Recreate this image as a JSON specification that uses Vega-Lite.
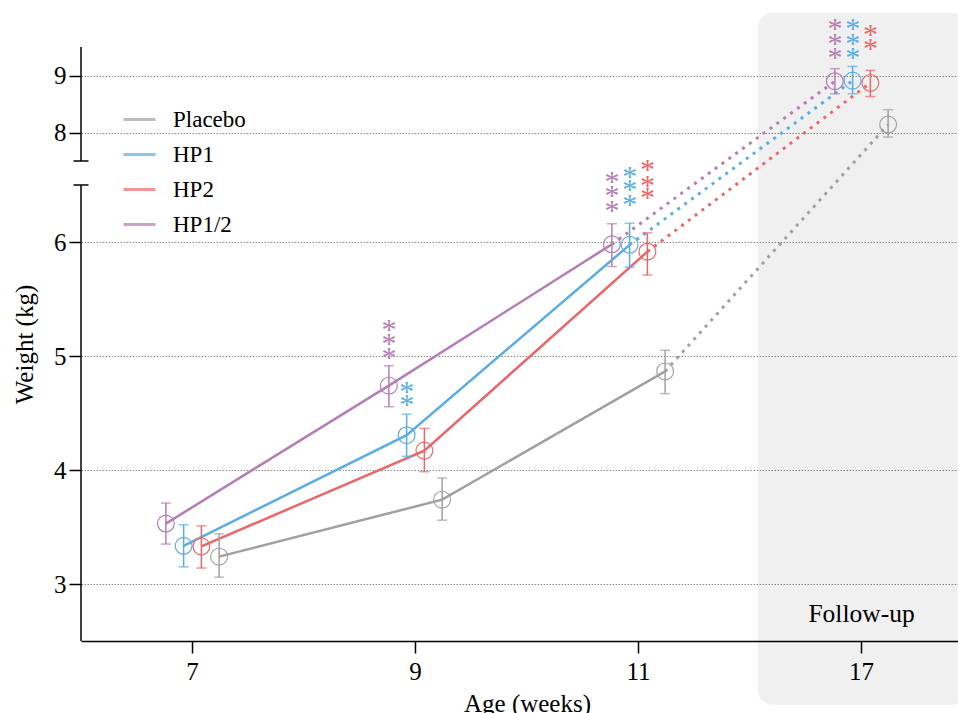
{
  "$schema": "https://vega.github.io/schema/vega-lite/v6.json",
  "autosize": {"type": "none"},
  "width": 877,
  "height": 594,
  "padding": {"left": 81, "top": 47, "right": 0, "bottom": 72},
  "background": "white",
  "config": {
    "font": "Liberation Serif",
    "view": {"stroke": null},
    "axis": {
      "labelFont": "Liberation Serif",
      "titleFont": "Liberation Serif",
      "labelFontSize": 25,
      "titleFontSize": 25,
      "titleFontWeight": "normal",
      "labelColor": "#000",
      "titleColor": "#000",
      "domainColor": "#000",
      "tickColor": "#000",
      "tickSize": 12,
      "domainWidth": 1.5,
      "tickWidth": 1.5
    },
    "legend": {
      "orient": "none",
      "legendX": 41,
      "legendY": 55,
      "padding": 0,
      "symbolType": "stroke",
      "symbolSize": 1024,
      "symbolStrokeWidth": 3,
      "labelFont": "Liberation Serif",
      "labelFontSize": 23,
      "labelColor": "#000",
      "labelOffset": 16,
      "rowPadding": 5,
      "title": null
    }
  },
  "datasets": {
    "summary": [
      {"week": 7, "group": "HP1/2", "mean": 3.53, "lo": 3.35, "hi": 3.71},
      {"week": 7, "group": "HP1", "mean": 3.335, "lo": 3.15, "hi": 3.52},
      {"week": 7, "group": "HP2", "mean": 3.33, "lo": 3.14, "hi": 3.51},
      {"week": 7, "group": "Placebo", "mean": 3.24, "lo": 3.06, "hi": 3.44},
      {"week": 9, "group": "HP1/2", "mean": 4.74, "lo": 4.555, "hi": 4.915},
      {"week": 9, "group": "HP1", "mean": 4.305, "lo": 4.12, "hi": 4.49},
      {"week": 9, "group": "HP2", "mean": 4.17, "lo": 3.985, "hi": 4.365},
      {"week": 9, "group": "Placebo", "mean": 3.74, "lo": 3.56, "hi": 3.93},
      {"week": 11, "group": "HP1/2", "mean": 5.98, "lo": 5.785, "hi": 6.16},
      {"week": 11, "group": "HP1", "mean": 5.975, "lo": 5.78, "hi": 6.165},
      {"week": 11, "group": "HP2", "mean": 5.915, "lo": 5.71, "hi": 6.08},
      {"week": 11, "group": "Placebo", "mean": 4.865, "lo": 4.67, "hi": 5.05},
      {"week": 17, "group": "HP1/2", "mean": 8.9, "lo": 8.68, "hi": 9.12},
      {"week": 17, "group": "HP1", "mean": 8.91, "lo": 8.68, "hi": 9.16},
      {"week": 17, "group": "HP2", "mean": 8.87, "lo": 8.63, "hi": 9.09},
      {"week": 17, "group": "Placebo", "mean": 8.14, "lo": 7.92, "hi": 8.4}
    ],
    "stars": [
      {"week": 9, "group": "HP1/2", "level": 5.27},
      {"week": 9, "group": "HP1/2", "level": 5.149},
      {"week": 9, "group": "HP1/2", "level": 5.026},
      {"week": 9, "group": "HP1", "level": 4.728},
      {"week": 9, "group": "HP1", "level": 4.614},
      {"week": 11, "group": "HP1/2", "level": 6.846},
      {"week": 11, "group": "HP1/2", "level": 6.445},
      {"week": 11, "group": "HP1/2", "level": 6.318},
      {"week": 11, "group": "HP1", "level": 7.054},
      {"week": 11, "group": "HP1", "level": 6.506},
      {"week": 11, "group": "HP1", "level": 6.371},
      {"week": 11, "group": "HP2", "level": 7.333},
      {"week": 11, "group": "HP2", "level": 6.679},
      {"week": 11, "group": "HP2", "level": 6.43},
      {"week": 17, "group": "HP1/2", "level": 9.912},
      {"week": 17, "group": "HP1/2", "level": 9.649},
      {"week": 17, "group": "HP1/2", "level": 9.398},
      {"week": 17, "group": "HP1", "level": 9.912},
      {"week": 17, "group": "HP1", "level": 9.649},
      {"week": 17, "group": "HP1", "level": 9.398},
      {"week": 17, "group": "HP2", "level": 9.795},
      {"week": 17, "group": "HP2", "level": 9.561}
    ],
    "breaks": [{"lo": 2.5, "hi": 6.5}, {"lo": 7.5, "hi": 9.5}],
    "caps": [{"at": 6.5}, {"at": 7.5}],
    "followup": [{"week": 17, "bottom": 1.94, "top": 10.1, "label": "Follow-up", "labelAt": 2.741}]
  },
  "layer": [
    {
      "data": {"name": "followup"},
      "mark": {"type": "bar", "fill": "#000", "fillOpacity": 0.059, "cornerRadius": 15, "width": {"band": 0.93}},
      "encoding": {
        "x": {
          "field": "week", "type": "ordinal",
          "scale": {"domain": [7, 9, 11, 17], "range": [0, 892], "paddingInner": 0, "paddingOuter": 0},
          "axis": {"title": "Age (weeks)", "labelAngle": 0, "grid": false, "labelPadding": 6, "titlePadding": 7}
        },
        "y": {
          "field": "bottom", "type": "quantitative",
          "scale": {"domain": [2.5, 6.5, 7.5, 9.5], "range": [594, 138, 114, 0], "zero": false, "nice": false},
          "axis": {"title": "Weight (kg)", "values": [3, 4, 5, 6, 8, 9], "format": "d", "domain": false, "grid": true, "gridColor": "#8c8c8c", "gridDash": [1.5, 1.5], "gridWidth": 1, "labelPadding": 3, "titlePadding": 16}
        },
        "y2": {"field": "top"}
      }
    },
    {
      "data": {"name": "followup"},
      "mark": {"type": "text", "fontSize": 25.5, "baseline": "middle", "font": "Liberation Serif", "color": "#000"},
      "encoding": {
        "x": {"field": "week", "type": "ordinal", "title": "Age (weeks)"},
        "y": {"field": "labelAt", "type": "quantitative", "title": "Weight (kg)"},
        "text": {"field": "label"}
      }
    },
    {
      "data": {"name": "breaks"},
      "mark": {"type": "rule", "color": "#000", "strokeWidth": 1.5},
      "encoding": {
        "x": {"datum": 7, "type": "ordinal", "bandPosition": 0},
        "y": {"field": "lo", "type": "quantitative", "title": "Weight (kg)"},
        "y2": {"field": "hi"}
      }
    },
    {
      "data": {"name": "caps"},
      "mark": {"type": "point", "shape": "stroke", "size": 225, "strokeWidth": 1.5, "color": "#000", "opacity": 1},
      "encoding": {
        "x": {"datum": 7, "type": "ordinal", "bandPosition": 0},
        "y": {"field": "at", "type": "quantitative", "title": "Weight (kg)"}
      }
    },
    {
      "data": {"name": "summary"},
      "transform": [{"filter": "datum.week <= 11"}],
      "mark": {"type": "line", "strokeWidth": 2.5},
      "encoding": {
        "x": {"field": "week", "type": "ordinal", "title": "Age (weeks)"},
        "xOffset": {"field": "group", "scale": {"domain": ["HP1/2", "HP1", "HP2", "Placebo"], "range": [76, 147], "paddingInner": 0, "paddingOuter": 0}},
        "y": {"field": "mean", "type": "quantitative", "title": "Weight (kg)"},
        "color": {
          "field": "group", "type": "nominal",
          "scale": {"domain": ["Placebo", "HP1", "HP2", "HP1/2"], "range": ["#a0a0a0", "#5aade3", "#e8686a", "#b57db5"]},
          "legend": {"title": null}
        }
      }
    },
    {
      "data": {"name": "summary"},
      "transform": [{"filter": "datum.week >= 11"}],
      "mark": {"type": "line", "strokeWidth": 3, "strokeDash": [3, 5.5]},
      "encoding": {
        "x": {"field": "week", "type": "ordinal", "title": "Age (weeks)"},
        "xOffset": {"field": "group"},
        "y": {"field": "mean", "type": "quantitative", "title": "Weight (kg)"},
        "color": {"field": "group", "type": "nominal"}
      }
    },
    {
      "data": {"name": "summary"},
      "mark": {"type": "rule", "strokeWidth": 1.5},
      "encoding": {
        "x": {"field": "week", "type": "ordinal", "title": "Age (weeks)"},
        "xOffset": {"field": "group"},
        "y": {"field": "lo", "type": "quantitative", "title": "Weight (kg)"},
        "y2": {"field": "hi"},
        "color": {"field": "group", "type": "nominal"}
      }
    },
    {
      "data": {"name": "summary"},
      "mark": {"type": "tick", "size": 10, "thickness": 1.5},
      "encoding": {
        "x": {"field": "week", "type": "ordinal", "title": "Age (weeks)"},
        "xOffset": {"field": "group"},
        "y": {"field": "lo", "type": "quantitative", "title": "Weight (kg)"},
        "color": {"field": "group", "type": "nominal"}
      }
    },
    {
      "data": {"name": "summary"},
      "mark": {"type": "tick", "size": 10, "thickness": 1.5},
      "encoding": {
        "x": {"field": "week", "type": "ordinal", "title": "Age (weeks)"},
        "xOffset": {"field": "group"},
        "y": {"field": "hi", "type": "quantitative", "title": "Weight (kg)"},
        "color": {"field": "group", "type": "nominal"}
      }
    },
    {
      "data": {"name": "summary"},
      "mark": {"type": "point", "shape": "circle", "filled": false, "size": 283, "strokeWidth": 1.2, "opacity": 1},
      "encoding": {
        "x": {"field": "week", "type": "ordinal", "title": "Age (weeks)"},
        "xOffset": {"field": "group"},
        "y": {"field": "mean", "type": "quantitative", "title": "Weight (kg)"},
        "color": {"field": "group", "type": "nominal"}
      }
    },
    {
      "data": {"name": "stars"},
      "mark": {"type": "text", "text": "*", "fontSize": 30, "baseline": "middle", "font": "Liberation Serif", "dy": 5},
      "encoding": {
        "x": {"field": "week", "type": "ordinal", "title": "Age (weeks)"},
        "xOffset": {"field": "group"},
        "y": {"field": "level", "type": "quantitative", "title": "Weight (kg)"},
        "color": {"field": "group", "type": "nominal"}
      }
    }
  ]
}
